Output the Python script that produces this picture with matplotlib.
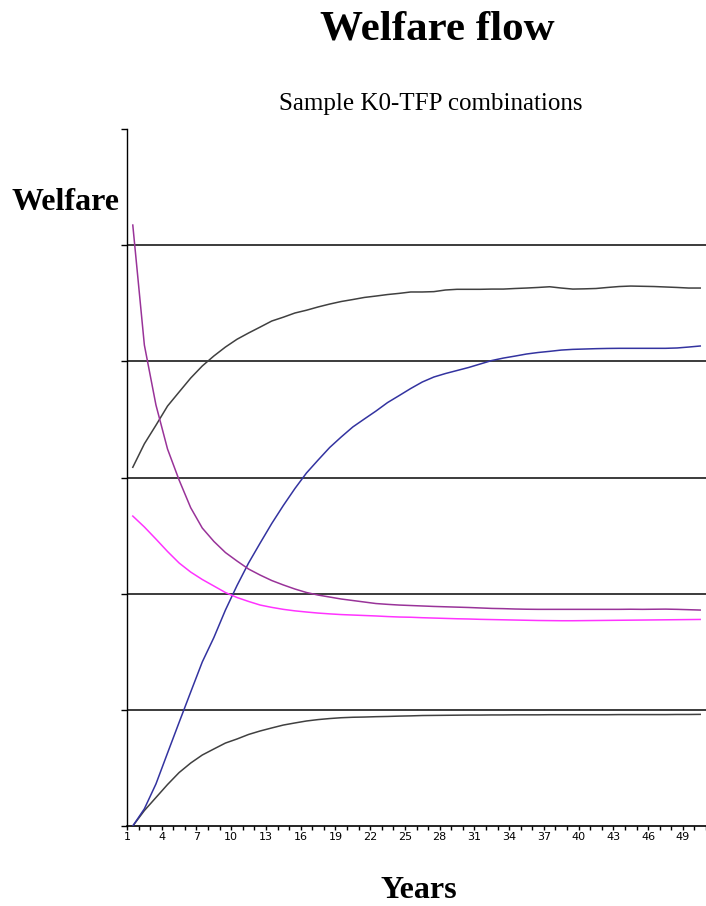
import matplotlib
matplotlib.use("Agg")
import matplotlib.pyplot as plt
import numpy as np
from matplotlib.ticker import FixedLocator, FixedFormatter, MultipleLocator

years = list(range(1, 51))

upper_grey = [3.088, 3.29, 3.45, 3.615, 3.736, 3.856, 3.96, 4.046, 4.123, 4.19,
              4.244, 4.295, 4.347, 4.38, 4.416, 4.44, 4.468, 4.493, 4.515, 4.532,
              4.55, 4.562, 4.575, 4.585, 4.597, 4.597, 4.60, 4.614, 4.62, 4.62,
              4.62, 4.622, 4.622, 4.627, 4.631, 4.636, 4.642, 4.631, 4.622, 4.624,
              4.627, 4.636, 4.644, 4.648, 4.646, 4.644, 4.64, 4.636, 4.631, 4.631]

purple = [5.173, 4.14, 3.624, 3.245, 2.978, 2.74, 2.565, 2.45, 2.354, 2.281,
          2.212, 2.16, 2.113, 2.075, 2.04, 2.01, 1.988, 1.971, 1.954, 1.941,
          1.928, 1.915, 1.908, 1.902, 1.898, 1.894, 1.89, 1.887, 1.884, 1.881,
          1.877, 1.873, 1.871, 1.868, 1.866, 1.865, 1.865, 1.865, 1.865, 1.865,
          1.865, 1.865, 1.865, 1.866, 1.865, 1.866, 1.867, 1.865, 1.862, 1.859]

pink = [2.668, 2.574, 2.47, 2.363, 2.264, 2.186, 2.122, 2.066, 2.01, 1.967,
        1.933, 1.902, 1.882, 1.865, 1.852, 1.842, 1.833, 1.826, 1.82, 1.816,
        1.812, 1.808, 1.803, 1.799, 1.797, 1.793, 1.79, 1.787, 1.784, 1.782,
        1.779, 1.777, 1.775, 1.773, 1.771, 1.769, 1.768, 1.767, 1.767, 1.768,
        1.769, 1.77, 1.771, 1.772, 1.773, 1.774, 1.775, 1.776, 1.777, 1.778]

blue = [0.0, 0.148, 0.362, 0.628, 0.892, 1.153, 1.412, 1.622, 1.859, 2.07,
        2.264, 2.436, 2.604, 2.759, 2.905, 3.039, 3.15, 3.258, 3.349, 3.435,
        3.504, 3.572, 3.645, 3.705, 3.766, 3.822, 3.865, 3.895, 3.921, 3.947,
        3.977, 4.007, 4.028, 4.045, 4.063, 4.076, 4.086, 4.097, 4.103, 4.106,
        4.109, 4.111, 4.112, 4.112, 4.112, 4.112, 4.112, 4.115, 4.123, 4.132]

lower_grey = [0.0, 0.133, 0.245, 0.357, 0.46, 0.542, 0.611, 0.663, 0.714, 0.749,
              0.788, 0.818, 0.844, 0.869, 0.887, 0.904, 0.916, 0.925, 0.932, 0.936,
              0.938, 0.941, 0.943, 0.946, 0.948, 0.951, 0.952, 0.953, 0.954, 0.955,
              0.955, 0.956, 0.956, 0.957, 0.957, 0.957, 0.958, 0.958, 0.958, 0.958,
              0.958, 0.958, 0.959, 0.959, 0.959, 0.959, 0.959, 0.96, 0.96, 0.961]

tick_labels = [str(y) for y in range(1, 50, 3)]

serif = "Liberation Serif"

fig = plt.figure(figsize=(7.06, 9.06), dpi=100)
ax = fig.add_axes([127/706, 1 - 826/906, 1 - 127/706, (826 - 129)/906])

# categories plotted at the centre of their slot
xpos = np.arange(len(years)) + 0.5

for yv in [1, 2, 3, 4, 5]:
    ax.axhline(yv, color="#1a1a1a", lw=1.2, zorder=1)

lw = 1.1
ax.plot(xpos, upper_grey, color="#404040", lw=lw, zorder=3)
ax.plot(xpos, lower_grey, color="#404040", lw=lw, zorder=3)
ax.plot(xpos, blue, color="#3333a0", lw=lw, zorder=3)
ax.plot(xpos, purple, color="#993399", lw=lw, zorder=3)
ax.plot(xpos, pink, color="#ff33ff", lw=lw, zorder=3)

ax.set_xlim(0, 50)
ax.set_ylim(0, 6)

ax.spines["top"].set_visible(False)
ax.spines["right"].set_visible(False)
ax.spines["left"].set_color("black")
ax.spines["bottom"].set_color("black")
ax.spines["left"].set_linewidth(1.0)
ax.spines["bottom"].set_linewidth(1.2)

ax.set_yticks(range(0, 7))
ax.set_yticklabels([])
ax.tick_params(axis="y", direction="out", length=4, width=1, color="black")

ax.xaxis.set_major_locator(FixedLocator(list(range(0, 49, 3))))
ax.xaxis.set_major_formatter(FixedFormatter(tick_labels))
ax.xaxis.set_minor_locator(MultipleLocator(1))
ax.tick_params(axis="x", which="both", direction="out", length=3, width=1,
               color="black", pad=1, labelsize=8)

fig.text(437/706, 1 - 30/906, "Welfare flow", ha="center", va="center",
         fontsize=31, fontweight="bold", family=serif)
fig.text(431/706, 1 - 104/906, "Sample K0-TFP combinations", ha="center",
         va="center", fontsize=18, family=serif)
fig.text(66/706, 1 - 202/906, "Welfare", ha="center", va="center",
         fontsize=23, fontweight="bold", family=serif)
fig.text(419/706, 1 - 898/906, "Years", ha="center", va="baseline",
         fontsize=23, fontweight="bold", family=serif)

fig.savefig("out.png", dpi=100, facecolor="white")
